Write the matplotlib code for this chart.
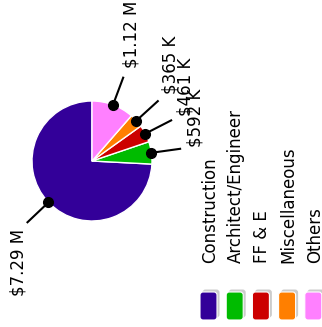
import numpy as np
import matplotlib
matplotlib.use("Agg")
import matplotlib.pyplot as plt
from matplotlib.patches import FancyBboxPatch

categories = ["Construction", "Architect/Engineer", "FF & E", "Miscellaneous", "Others"]
values = [7290000, 592000, 461000, 365000, 1120000]
labels = ["$7.29 M", "$592 K", "$461 K", "$365 K", "$1.12 M"]
colors = ["#330099", "#00bb00", "#cc0000", "#ff7f00", "#ff80ff"]

W, H = 322, 327
fig = plt.figure(figsize=(W / 100, H / 100), dpi=100)
ax = fig.add_axes([0, 0, 1, 1])

cx, cy, r = 92, 166, 60
wedges, _ = ax.pie(values, colors=colors, startangle=90, counterclock=True,
                   center=(cx, cy), radius=r,
                   wedgeprops=dict(edgecolor="white", linewidth=1))
ax.set_xlim(0, W)
ax.set_ylim(0, H)
ax.set_aspect("equal")
ax.axis("off")

# leader lines, dots and rotated value labels
for w, lab in zip(wedges, labels):
    ang = np.deg2rad((w.theta1 + w.theta2) / 2)
    ca, sa = np.cos(ang), np.sin(ang)
    x0, y0 = cx + r * ca, cy + r * sa
    x1, y1 = cx + 1.5 * r * ca, cy + 1.5 * r * sa
    ax.plot([x0, x1], [y0, y1], color="black", lw=1.5, solid_capstyle="butt")
    ax.plot(x0, y0, "o", color="black", ms=7)
    right = ca >= 0
    tx, ty = cx + 1.65 * r * ca + (5 if right else -2), cy + 1.65 * r * sa
    ax.text(tx, ty, lab, rotation=90, rotation_mode="anchor",
            ha="left" if right else "right", va="center", fontsize=12)

# legend drawn by hand: rounded swatches with shadow and rotated labels
for i, (cat, col) in enumerate(zip(categories, colors)):
    xc = 208.5 + i * 26.2
    ax.add_patch(FancyBboxPatch((xc - 8.5 + 2.5, H - 320 + 2.5), 17, 28,
                                boxstyle="round,pad=0,rounding_size=3",
                                fc="#cccccc", ec="none", zorder=1))
    ax.add_patch(FancyBboxPatch((xc - 8.5, H - 320), 17, 28,
                                boxstyle="round,pad=0,rounding_size=3",
                                fc=col, ec="white", lw=0.8, zorder=2))
    ax.text(xc + 1.5, H - 263, cat, rotation=90, rotation_mode="anchor",
            ha="left", va="center", fontsize=12)

fig.savefig("out.png", dpi=100)
